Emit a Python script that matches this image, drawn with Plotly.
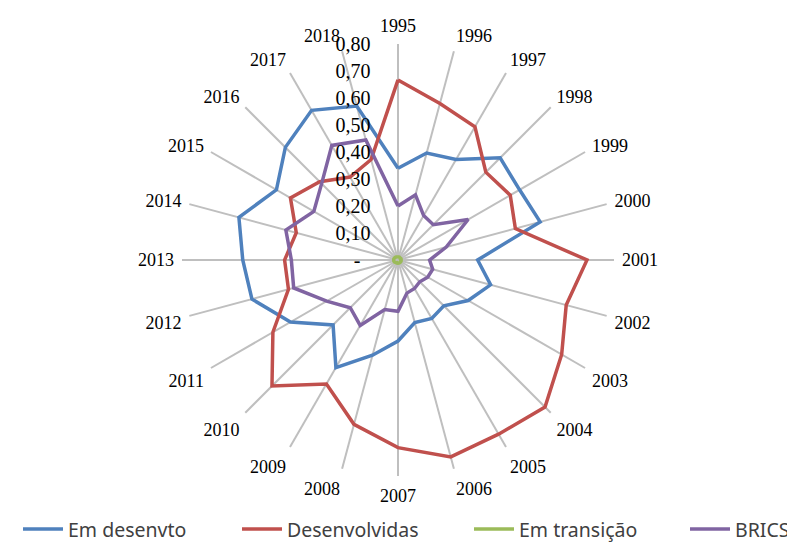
import plotly.graph_objects as go

years = [str(y) for y in range(1995, 2019)]

em_desenvto = [0.34, 0.41, 0.43, 0.535, 0.52, 0.545, 0.295, 0.355, 0.30, 0.24, 0.25, 0.24,
               0.30, 0.365, 0.46, 0.34, 0.46, 0.56, 0.575, 0.61, 0.52, 0.59, 0.64, 0.59]
desenvolvidas = [0.667, 0.60, 0.57, 0.46, 0.48, 0.45, 0.70, 0.645, 0.70, 0.77, 0.745, 0.755,
                 0.695, 0.63, 0.53, 0.66, 0.535, 0.42, 0.42, 0.39, 0.46, 0.41, 0.355, 0.385]
em_transicao = [0.012, 0.012, 0.012, 0.01, 0.012, 0.012, 0.01, 0.012, 0.012, 0.012, 0.012, 0.012,
                0.012, 0.01, 0.012, 0.013, 0.015, 0.016, 0.016, 0.016, 0.015, 0.014, 0.013, 0.012]
brics = [0.20, 0.25, 0.19, 0.185, 0.30, 0.185, 0.117, 0.133, 0.127, 0.114, 0.122, 0.127,
         0.19, 0.19, 0.28, 0.25, 0.305, 0.40, 0.395, 0.43, 0.36, 0.40, 0.49, 0.46]

radial_ticks = [0, 0.1, 0.2, 0.3, 0.4, 0.5, 0.6, 0.7, 0.8]
radial_labels = ["-\u00a0\u00a0", "0,10", "0,20", "0,30", "0,40", "0,50", "0,60", "0,70", "0,80"]

# the page body adds an 8px offset, so the figure is 8px smaller and positions are shifted
OFF = 8
W, H = 795 - OFF, 551 - OFF
cx, cy, R = 398 - OFF, 260 - OFF, 216

series = [
    ("Em desenvto", em_desenvto, "#4F81BD", "legend", 69),
    ("Desenvolvidas", desenvolvidas, "#C0504D", "legend2", 288),
    ("Em transição", em_transicao, "#9BBB59", "legend3", 520),
    ("BRICS", brics, "#8064A2", "legend4", None),
]

fig = go.Figure()
legends = {}
for name, vals, color, leg, text_x in series:
    fig.add_trace(go.Scatterpolar(
        r=vals + vals[:1],
        theta=years + years[:1],
        mode="lines",
        name=name,
        legend=leg,
        line=dict(color=color, width=3.5),
    ))
    if text_x is None:
        pos = dict(x=1.0, xanchor="right")
    else:
        pos = dict(x=(text_x - OFF - 51) / W, xanchor="left")
    legends[leg] = dict(
        orientation="h", y=0.004, yanchor="bottom",
        font=dict(family="Noto Sans", size=19.5, color="#404040"),
        bgcolor="rgba(0,0,0,0)", itemwidth=40, **pos,
    )

fig.update_layout(
    width=W, height=H,
    margin=dict(l=0, r=0, t=0, b=0, autoexpand=False),
    paper_bgcolor="white",
    plot_bgcolor="white",
    showlegend=True,
    polar=dict(
        bgcolor="white",
        domain=dict(x=[(cx - R) / W, (cx + R) / W],
                    y=[(H - cy - R) / H, (H - cy + R) / H]),
        angularaxis=dict(
            type="category",
            categoryorder="array", categoryarray=years,
            rotation=90, direction="clockwise",
            showline=False, showgrid=True,
            gridcolor="#BFBFBF", gridwidth=1.5,
            ticks="outside", ticklen=4, tickcolor="rgba(0,0,0,0)",
            tickfont=dict(family="Liberation Serif", size=18, color="black"),
        ),
        radialaxis=dict(
            range=[0, 0.8], angle=90, side="counterclockwise",
            showgrid=False, showline=False,
            tickvals=radial_ticks, ticktext=radial_labels,
            ticks="outside", ticklen=20, tickcolor="rgba(0,0,0,0)",
            tickfont=dict(family="Liberation Serif", size=20, color="black"),
            tickangle=90,
        ),
    ),
    **legends,
)

fig.write_html("out.html")
